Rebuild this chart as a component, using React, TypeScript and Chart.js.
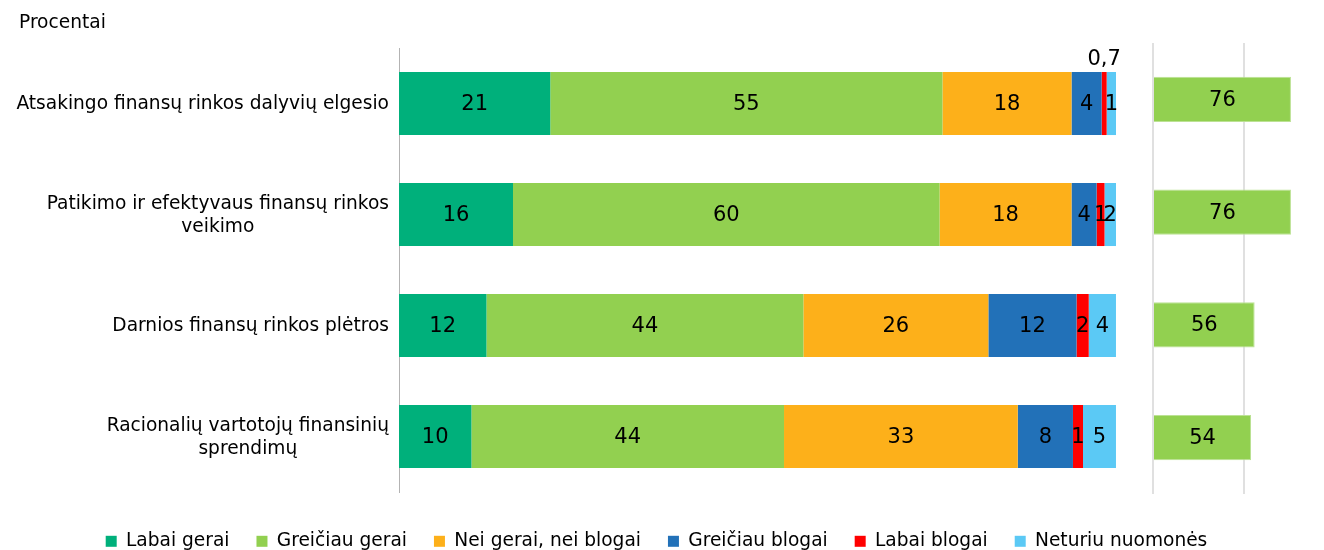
import React, { useEffect, useRef } from 'react';
import { Chart, registerables } from 'chart.js';

Chart.register(...registerables);

const FONT = '"DejaVu Sans", Verdana, sans-serif';
const TEXT_SIZE = 18.6;

const categories: (string | string[])[] = [
  'Atsakingo finansų rinkos dalyvių elgesio',
  ['Patikimo ir efektyvaus finansų rinkos', 'veikimo'],
  'Darnios finansų rinkos plėtros',
  ['Racionalių vartotojų finansinių', 'sprendimų'],
];

const seriesNames = [
  'Labai gerai',
  'Greičiau gerai',
  'Nei gerai, nei blogai',
  'Greičiau blogai',
  'Labai blogai',
  'Neturiu nuomonės',
];

const labaiGerai = [21.1, 15.9, 12.2, 10.1];
const greiciauGerai = [54.7, 59.5, 44.2, 43.6];
const neiGeraiNeiBlogai = [18.0, 18.4, 25.8, 32.6];
const greiciauBlogai = [4.2, 3.5, 12.3, 7.7];
const labaiBlogai = [0.7, 1.1, 1.7, 1.4];
const neturiuNuomones = [1.3, 1.6, 3.8, 4.6];

const teigiamai = [76, 76, 56, 54];

const seriesColors = ['#00B07B', '#92D050', '#FDB01A', '#2271B8', '#FF0000', '#5BC9F5'];

const fmt = (v: number) => (v < 1 ? v.toFixed(1).replace('.', ',') : String(Math.round(v)));

const barLabels = {
  id: 'barLabels',
  afterDatasetsDraw(chart: any) {
    const ctx = chart.ctx;
    ctx.save();
    ctx.font = `21px ${FONT}`;
    ctx.fillStyle = '#000';
    ctx.textAlign = 'center';
    ctx.textBaseline = 'middle';
    chart.data.datasets.forEach((ds: any, di: number) => {
      const meta = chart.getDatasetMeta(di);
      if (meta.hidden) return;
      meta.data.forEach((el: any, i: number) => {
        const v = ds.data[i] as number;
        const { x, y, base, height } = el.getProps(['x', 'y', 'base', 'height'], true);
        const cx = (x + base) / 2;
        if (v < 1) ctx.fillText(fmt(v), cx, y - height / 2 - 12);
        else ctx.fillText(fmt(v), cx, y + 1);
      });
    });
    ctx.restore();
  },
};

const categoryLabels = {
  id: 'categoryLabels',
  afterDraw(chart: any) {
    const scale = chart.scales.y;
    const ctx = chart.ctx;
    ctx.save();
    ctx.font = `${TEXT_SIZE}px ${FONT}`;
    ctx.fillStyle = '#000';
    ctx.textAlign = 'center';
    ctx.textBaseline = 'middle';
    const right = scale.right - 10;
    const lh = 22.7;
    (chart.data.labels as (string | string[])[]).forEach((lab, i) => {
      const lines = Array.isArray(lab) ? lab : [lab];
      const w = Math.max(...lines.map((l) => ctx.measureText(l).width));
      const cx = right - w / 2;
      const yc = scale.getPixelForValue(i) + 1;
      lines.forEach((l, k) => ctx.fillText(l, cx, yc + (k - (lines.length - 1) / 2) * lh));
    });
    ctx.restore();
  },
};

export default function App() {
  const leftRef = useRef<HTMLCanvasElement | null>(null);
  const rightRef = useRef<HTMLCanvasElement | null>(null);

  useEffect(() => {
    const seriesData = [labaiGerai, greiciauGerai, neiGeraiNeiBlogai, greiciauBlogai, labaiBlogai, neturiuNuomones];
    const left = new Chart(leftRef.current as HTMLCanvasElement, {
      type: 'bar',
      data: {
        labels: categories as any,
        datasets: seriesData.map((d, i) => ({
          label: seriesNames[i],
          data: d,
          backgroundColor: seriesColors[i],
          borderWidth: 0,
          barPercentage: 0.568,
          categoryPercentage: 1,
        })),
      },
      options: {
        indexAxis: 'y',
        animation: false,
        responsive: true,
        maintainAspectRatio: false,
        events: [],
        layout: { padding: { left: 19, right: 30, top: 0, bottom: 0 } },
        scales: {
          x: {
            type: 'linear',
            stacked: true,
            min: 0,
            max: 124.83,
            display: true,
            ticks: { display: false },
            grid: { display: false },
            border: { display: false },
            afterFit: (s: any) => {
              s.height = 13;
            },
          },
          y: {
            type: 'category',
            stacked: true,
            ticks: { display: false },
            grid: { display: false },
            border: { display: true, color: '#b3b3b3', width: 1 },
            afterFit: (s: any) => {
              s.width = 380;
            },
          },
        },
        plugins: {
          tooltip: { enabled: false },
          title: {
            display: true,
            text: 'Procentai',
            align: 'start',
            color: '#000',
            font: { size: TEXT_SIZE, family: FONT, weight: 'normal' },
            padding: { top: 12, bottom: 13.7 },
          },
          legend: {
            display: true,
            position: 'bottom',
            maxHeight: 45,
            labels: {
              boxWidth: 11,
              boxHeight: 11,
              padding: 27,
              color: '#000',
              font: { size: TEXT_SIZE, family: FONT },
            },
          },
        },
      },
      plugins: [barLabels, categoryLabels],
    });

    const right = new Chart(rightRef.current as HTMLCanvasElement, {
      type: 'bar',
      data: {
        labels: categories as any,
        datasets: [
          {
            label: 'Teigiamai',
            data: teigiamai,
            backgroundColor: '#92D050',
            borderColor: '#BCE294',
            borderWidth: 1,
            barPercentage: 0.4,
            categoryPercentage: 1,
          },
        ],
      },
      options: {
        indexAxis: 'y',
        animation: false,
        responsive: true,
        maintainAspectRatio: false,
        events: [],
        layout: { padding: { left: 23, right: 0, top: 43, bottom: 56 } },
        scales: {
          x: {
            type: 'linear',
            min: 0,
            max: 94.2,
            ticks: { display: false, stepSize: 50, includeBounds: false },
            grid: { color: '#e0e0e0', lineWidth: 2, drawTicks: false },
            border: { display: false },
            afterFit: (s: any) => {
              s.height = 0;
            },
          },
          y: { type: 'category', display: false },
        },
        plugins: {
          tooltip: { enabled: false },
          legend: { display: false },
          title: { display: false },
        },
      },
      plugins: [barLabels],
    });

    return () => {
      left.destroy();
      right.destroy();
    };
  }, []);

  return (
    <div style={{ position: 'fixed', left: 0, top: 0, width: 1324, height: 550, overflow: 'hidden', background: '#fff' }}>
      <div style={{ position: 'absolute', left: 0, top: 0, width: 1324, height: 550 }}>
        <canvas ref={leftRef} />
      </div>
      <div style={{ position: 'absolute', left: 1130, top: 0, width: 194, height: 550 }}>
        <canvas ref={rightRef} />
      </div>
    </div>
  );
}
